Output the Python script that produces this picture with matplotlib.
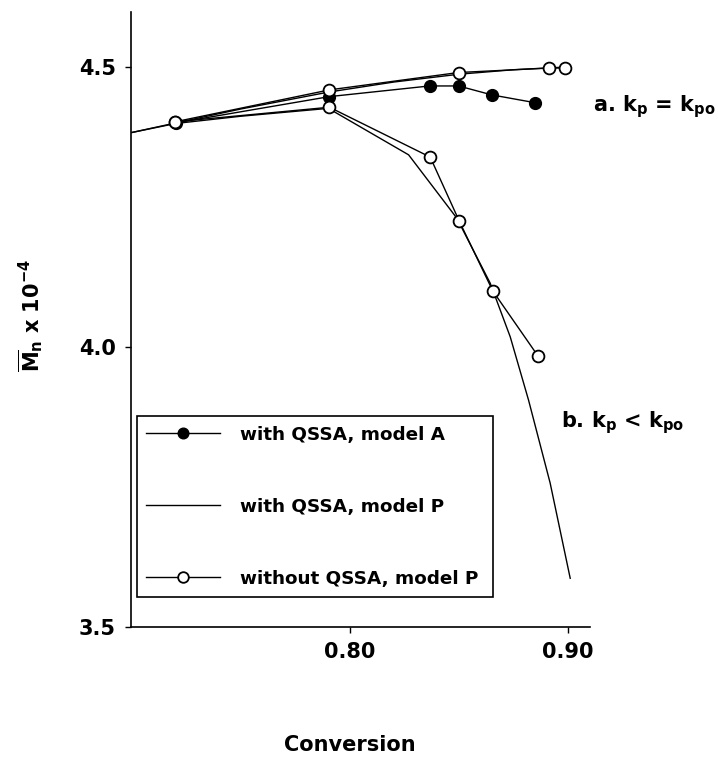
import matplotlib
matplotlib.use('Agg')
import matplotlib.pyplot as plt

plt.rcParams['font.family'] = 'DejaVu Sans'
plt.rcParams['font.weight'] = 'bold'
plt.rcParams['mathtext.default'] = 'bf'

# with QSSA, model A (filled circles)
conv_A = [0.7200, 0.7905, 0.8364, 0.8497, 0.8650, 0.8849]
mn_A = [4.400, 4.447, 4.466, 4.466, 4.450, 4.436]

# with QSSA, model P (plain lines), case a and case b
conv_Pa = [0.700, 0.720, 0.750, 0.790, 0.820, 0.850, 0.875, 0.900]
mn_Pa = [4.383, 4.400, 4.425, 4.455, 4.473, 4.487, 4.495, 4.500]
conv_Pb = [0.700, 0.720, 0.750, 0.790, 0.8268, 0.8489, 0.8642, 0.8734, 0.8818, 0.8917, 0.9009]
mn_Pb = [4.383, 4.399, 4.412, 4.426, 4.343, 4.230, 4.114, 4.018, 3.905, 3.757, 3.587]

# without QSSA, model P (open circles), case a and case b
conv_Oa = [0.7197, 0.7905, 0.8497, 0.8914, 0.8986]
mn_Oa = [4.402, 4.459, 4.490, 4.498, 4.498]
conv_Ob = [0.7197, 0.7905, 0.8367, 0.8501, 0.8654, 0.8861]
mn_Ob = [4.402, 4.428, 4.339, 4.224, 4.100, 3.984]

fig = plt.figure(figsize=(7.18, 7.61), dpi=100)
ax = fig.add_axes([0.1825, 0.1761, 0.6393, 0.8081])

lw = 1.0
ms = 8.5
ax.plot(conv_Pa, mn_Pa, color='black', lw=lw)
ax.plot(conv_Pb, mn_Pb, color='black', lw=lw)
lA, = ax.plot(conv_A, mn_A, color='black', lw=lw, marker='o', ms=ms,
              mfc='black', mec='black', zorder=3)
ax.plot(conv_Oa, mn_Oa, color='black', lw=lw, marker='o', ms=ms,
        mfc='white', mec='black', mew=1.3, zorder=4)
lO, = ax.plot(conv_Ob, mn_Ob, color='black', lw=lw, marker='o', ms=ms,
              mfc='white', mec='black', mew=1.3, zorder=4)
lP, = ax.plot([], [], color='black', lw=lw)

ax.set_xlim(0.6995, 0.910)
ax.set_ylim(3.5, 4.598)
ax.set_xticks([0.80, 0.90])
ax.set_xticklabels(['0.80', '0.90'])
ax.set_yticks([3.5, 4.0, 4.5])
ax.set_yticklabels(['3.5', '4.0', '4.5'])
ax.tick_params(direction='out', length=4, width=1, labelsize=15, pad=7)
ax.spines['top'].set_visible(False)
ax.spines['right'].set_visible(False)
for s in ['left', 'bottom']:
    ax.spines[s].set_linewidth(1.2)

leg = ax.legend([lA, lP, lO],
                ['with QSSA, model A', 'with QSSA, model P', 'without QSSA, model P'],
                loc='lower left', bbox_to_anchor=(0.013, 0.0488, 0.776, 0.296),
                mode='expand', borderaxespad=0, fancybox=False, framealpha=1,
                edgecolor='black', fontsize=13.2, handlelength=4.0,
                handletextpad=1.1, labelspacing=2.95, borderpad=0.5,
                markerscale=0.9)
leg.get_frame().set_linewidth(1.2)

fig.text(0.826, 0.854, r'a. $k_p$ = $k_{po}$', fontsize=15, ha='left', va='baseline')
fig.text(0.781, 0.439, r'b. $k_p$ < $k_{po}$', fontsize=15, ha='left', va='baseline')
fig.text(0.042, 0.586, r'$\overline{M}_n$ x 10$^{-4}$', fontsize=15,
         rotation=90, ha='center', va='center')
fig.text(0.487, 0.021, 'Conversion', fontsize=15, ha='center', va='center')

fig.savefig('out.png', dpi=100)
